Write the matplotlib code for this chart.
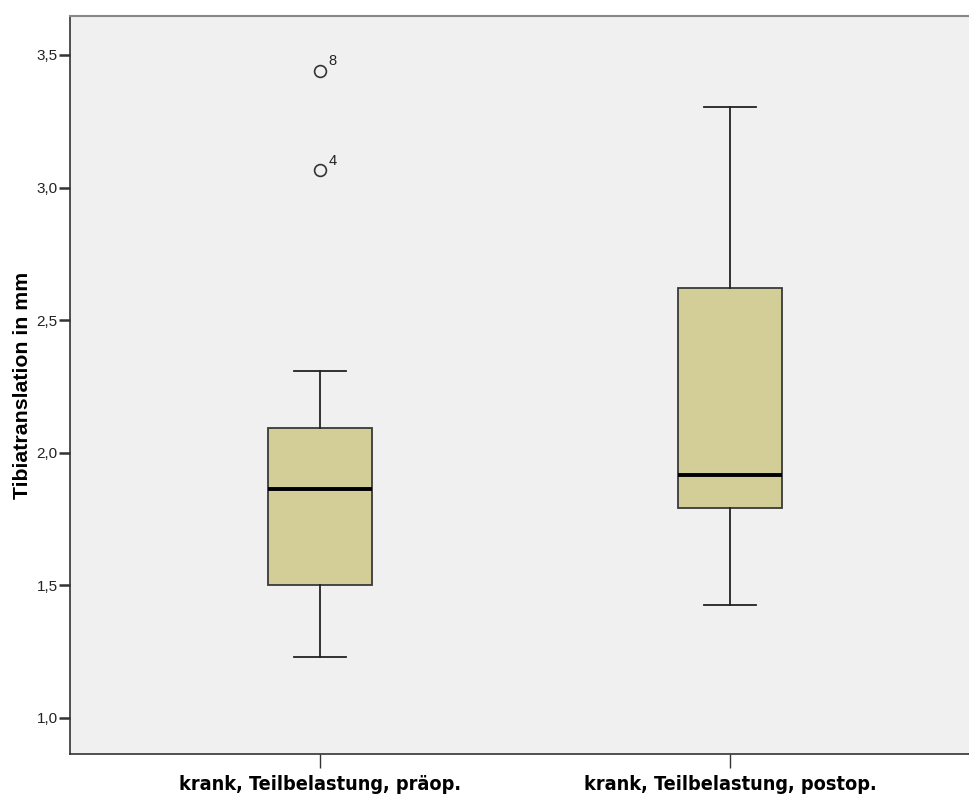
import matplotlib
matplotlib.use("Agg")
import matplotlib.pyplot as plt

# group labels and five-number summaries (Tibiatranslation in mm)
groups = ["krank, Teilbelastung, präop.", "krank, Teilbelastung, postop."]
whislo = [1.23, 1.425]
q1 = [1.50, 1.79]
med = [1.862, 1.915]
q3 = [2.092, 2.62]
whishi = [2.31, 3.305]
outliers = [[3.44, 3.065], []]
outlier_ids = [["8", "4"], []]

yticks = [1.0, 1.5, 2.0, 2.5, 3.0, 3.5]

fig = plt.figure(figsize=(9.69, 7.94), dpi=100)
ax = fig.add_axes([70 / 969, 40 / 794, 899 / 969, 738 / 794])
ax.set_facecolor("#f0f0f0")

stats = []
for i in range(len(groups)):
    stats.append(dict(whislo=whislo[i], q1=q1[i], med=med[i], q3=q3[i],
                      whishi=whishi[i], fliers=outliers[i], label=groups[i]))

ax.bxp(stats, positions=[1, 2], widths=0.254, patch_artist=True,
       boxprops=dict(facecolor="#d3ce98", edgecolor="#3a3a3a", linewidth=1.3),
       medianprops=dict(color="black", linewidth=2.8),
       whiskerprops=dict(color="#222222", linewidth=1.3),
       capprops=dict(color="#222222", linewidth=1.3),
       capwidths=0.127,
       flierprops=dict(marker="o", markerfacecolor="none", markeredgecolor="#333333",
                       markersize=8.5, markeredgewidth=1.2))

# case numbers next to outliers
for i, (vals, ids) in enumerate(zip(outliers, outlier_ids)):
    for v, lab in zip(vals, ids):
        ax.annotate(lab, (i + 1, v), xytext=(6, 4), textcoords="offset points",
                    fontsize=10.5, color="#222222", family="Liberation Sans")

ax.set_xlim(0.39, 2.583)
ax.set_ylim(0.864, 3.647)
ax.set_yticks(yticks)
ax.set_yticklabels([f"{t:.1f}".replace(".", ",") for t in yticks],
                   fontsize=11, family="Liberation Sans", color="#222222")
ax.set_xticks([1, 2])
ax.set_xticklabels(groups, fontsize=14.2, fontweight="bold",
                   family="DejaVu Sans", fontstretch="condensed")
ax.tick_params(axis="y", direction="out", length=8, width=1.8, color="#333333", pad=1)
ax.tick_params(axis="x", direction="out", length=10, width=1, color="#333333", pad=5)

ax.set_ylabel("Tibiatranslation in mm", fontsize=15.3, fontweight="bold",
              family="Liberation Sans", labelpad=3)

for side in ["left", "bottom"]:
    ax.spines[side].set_color("#333333")
    ax.spines[side].set_linewidth(1.2)
ax.spines["top"].set_color("#888888")
ax.spines["top"].set_linewidth(1.5)
ax.spines["right"].set_visible(False)

fig.savefig("out.png", dpi=100, facecolor="white")
